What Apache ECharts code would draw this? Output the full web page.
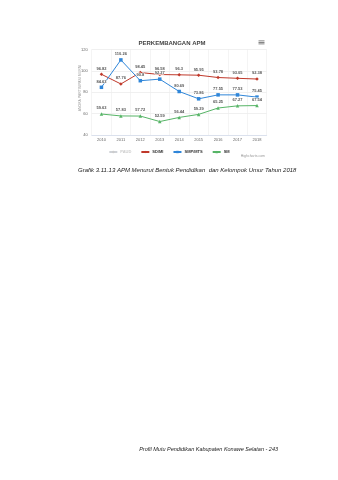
<!DOCTYPE html>
<html>
<head>
<meta charset="utf-8">
<script src="https://cdn.jsdelivr.net/npm/echarts@6/dist/echarts.min.js"></script>
<style>
  html, body { margin: 0; padding: 0; background: #fff; }
  #chart { width: 338px; height: 480px; }
</style>
</head>
<body>
<div id="chart"></div>
<script>
// Years on the category axis
const years = ['2010', '2011', '2012', '2013', '2014', '2015', '2016', '2017', '2018'];

// APM by school level
const paud = [];
const sdMi = [96.82, 87.76, 98.45, 96.58, 96.3, 95.95, 93.78, 93.05, 92.38];
const smpMts = [84.63, 110.26, 90.8, 92.27, 80.69, 73.86, 77.55, 77.53, 75.45];
const sm = [59.63, 57.83, 57.72, 52.59, 56.44, 59.29, 65.25, 67.27, 67.54];

// Value axis ticks
const yTicks = [40, 60, 80, 100, 120];

const chart = echarts.init(document.getElementById('chart'), null, { renderer: 'canvas' });

const labelStyle = {
  show: true,
  position: 'top',
  distance: 2,
  fontSize: 4,
  fontWeight: 'bold',
  color: '#555',
  fontFamily: 'Liberation Sans',
  textBorderColor: '#fff',
  textBorderWidth: 1
};

function lineSeries(name, data, color, symbol) {
  return {
    name: name,
    type: 'line',
    data: data,
    symbol: symbol,
    symbolSize: 3.5,
    lineStyle: { width: 1, color: color },
    itemStyle: { color: color },
    label: labelStyle,
    emphasis: { disabled: true },
    animation: false
  };
}

chart.setOption({
  backgroundColor: '#fff',
  animation: false,
  title: {
    text: 'PERKEMBANGAN APM',
    left: 167,
    top: 35,
    textAlign: 'center',
    textStyle: { fontSize: 6, fontWeight: 'bold', color: '#444', fontFamily: 'Liberation Sans' }
  },
  legend: {
    top: 145,
    left: 'center',
    itemWidth: 8,
    itemHeight: 3,
    itemGap: 9,
    data: ['PAUD', 'SD/MI', 'SMP/MTS', 'SM'],
    selected: { 'PAUD': false },
    inactiveColor: '#ccc',
    textStyle: { fontSize: 4, fontWeight: 'bold', color: '#333', fontFamily: 'Liberation Sans', padding: [0, 0, 0, -2] }
  },
  grid: {
    left: 91.7,
    right: 338 - 266.7,
    top: 49.5,
    bottom: 480 - 135
  },
  xAxis: {
    type: 'category',
    data: years,
    boundaryGap: true,
    axisLine: { lineStyle: { color: '#ccd6eb', width: 0.6 } },
    axisTick: { show: false },
    splitLine: { show: true, lineStyle: { color: '#ececec', width: 0.6 } },
    axisLabel: { fontSize: 4, color: '#666', margin: 3, fontFamily: 'Liberation Sans' }
  },
  yAxis: {
    type: 'value',
    min: yTicks[0],
    max: yTicks[yTicks.length - 1],
    interval: 20,
    axisLine: { show: false },
    axisTick: { show: false },
    splitLine: { lineStyle: { color: '#e6e6e6', width: 0.6 } },
    axisLabel: { fontSize: 4, color: '#666', margin: 4, fontFamily: 'Liberation Sans' }
  },
  series: [
    lineSeries('PAUD', paud, '#7cb5ec', 'circle'),
    lineSeries('SD/MI', sdMi, '#c0392b', 'diamond'),
    lineSeries('SMP/MTS', smpMts, '#2f86d9', 'rect'),
    lineSeries('SM', sm, '#57b567', 'triangle')
  ],
  graphic: [
    // value axis title, rotated
    { type: 'text', x: 80, y: 88, rotation: Math.PI / 2, style: { x: 0, y: 0, text: 'ANGKA PARTISIPASI MURNI', fontSize: 3.5, fill: '#999', align: 'center', verticalAlign: 'middle', fontFamily: 'Liberation Sans' } },
    // export menu icon
    { type: 'rect', shape: { x: 258.5, y: 40.5, width: 6, height: 0.8 }, style: { fill: '#666' } },
    { type: 'rect', shape: { x: 258.5, y: 42, width: 6, height: 0.8 }, style: { fill: '#666' } },
    { type: 'rect', shape: { x: 258.5, y: 43.5, width: 6, height: 0.8 }, style: { fill: '#666' } },
    // credit
    { type: 'text', style: { x: 265, y: 156, text: 'Highcharts.com', fontSize: 3.5, fill: '#999', align: 'right', verticalAlign: 'middle', fontFamily: 'Liberation Sans' } },
    // caption
    { type: 'text', style: { x: 78, y: 170.5, text: 'Grafik 3.11.13 APM Menurut Bentuk Pendidikan  dan Kelompok Umur Tahun 2018', fontSize: 6, fontStyle: 'italic', fill: '#222', align: 'left', verticalAlign: 'middle', fontFamily: 'Liberation Sans' } },
    // page footer
    { type: 'text', style: { x: 278, y: 449, text: 'Profil Mutu Pendidikan Kabupaten Konawe Selatan - 243', fontSize: 5.5, fontStyle: 'italic', fill: '#222', align: 'right', verticalAlign: 'middle', fontFamily: 'Liberation Sans' } }
  ]
});
</script>
</body>
</html>
